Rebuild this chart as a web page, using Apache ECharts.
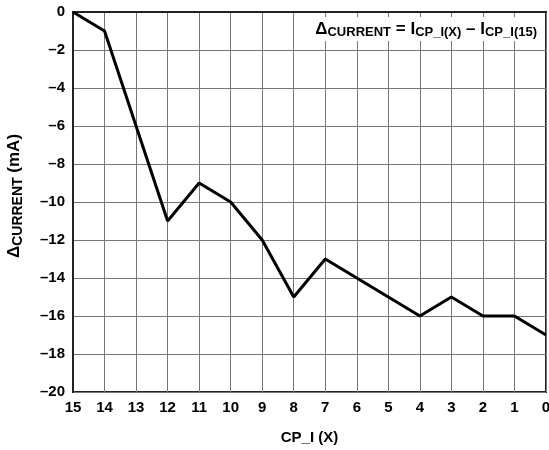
<!DOCTYPE html>
<html><head><meta charset="utf-8">
<script src="https://cdn.jsdelivr.net/npm/echarts@6/dist/echarts.min.js"></script>
<style>html,body{margin:0;padding:0;background:#fff}#c{width:549px;height:450px}</style>
</head><body><div id="c"></div>
<script>
var categories = ['15','14','13','12','11','10','9','8','7','6','5','4','3','2','1','0'];
var deltaCurrent = [0,-1,-6,-11,-9,-10,-12,-15,-13,-14,-15,-16,-15,-16,-16,-17];
var yTicks = {min:-20, max:0, interval:2};

var chart = echarts.init(document.getElementById('c'));
var F = 'Liberation Sans, Arial, sans-serif';
chart.setOption({
  animation:false,
  backgroundColor:'#fff',
  grid:{left:73,right:3,top:12,bottom:58,show:true,borderColor:'#222',borderWidth:2,containLabel:false,outerBoundsMode:'none'},
  xAxis:{type:'category',data:categories,boundaryGap:false,
    axisLine:{lineStyle:{color:'#222',width:2}},axisTick:{show:false},
    axisLabel:{color:'#000',fontFamily:F,fontWeight:'bold',fontSize:15,margin:8},
    splitLine:{show:true,lineStyle:{color:'#777',width:1}},
    name:'CP_I (X)',nameLocation:'middle',nameGap:38,
    nameTextStyle:{color:'#000',fontFamily:F,fontWeight:'bold',fontSize:15}},
  yAxis:{type:'value',min:yTicks.min,max:yTicks.max,interval:yTicks.interval,
    axisLine:{show:true,lineStyle:{color:'#222',width:2}},axisTick:{show:false},
    axisLabel:{color:'#000',fontFamily:F,fontWeight:'bold',fontSize:15,margin:8,
      formatter:function(v){return String(v).replace('-','\u2013');}},
    splitLine:{show:true,lineStyle:{color:'#777',width:1}},
    name:'{a|\u0394}{s|CURRENT}{a| (mA)}',nameLocation:'middle',nameGap:48,nameRotate:90,
    nameTextStyle:{color:'#000',fontFamily:F,fontWeight:'bold',fontSize:17,padding:[0,0,0,12],
      rich:{a:{fontFamily:F,fontWeight:'bold',fontSize:17,color:'#000'},
            s:{fontFamily:F,fontWeight:'bold',fontSize:14,color:'#000',verticalAlign:'bottom',padding:[7,0,0,0]}}}},
  series:[{type:'line',data:deltaCurrent,symbol:'none',lineStyle:{color:'#000',width:3},z:3}],
  graphic:[{type:'text',right:8,top:17,z:10,
    style:{text:'{a|\u0394}{s|CURRENT}{a| = I}{s|CP_I(X)}{a| \u2013 I}{s|CP_I(15)}',
      backgroundColor:'#fff',padding:[2,4,2,6],
      rich:{a:{fontFamily:F,fontWeight:'bold',fontSize:17,color:'#000'},
            s:{fontFamily:F,fontWeight:'bold',fontSize:13,color:'#000',padding:[7,0,0,0]}}}}]
});
</script></body></html>
